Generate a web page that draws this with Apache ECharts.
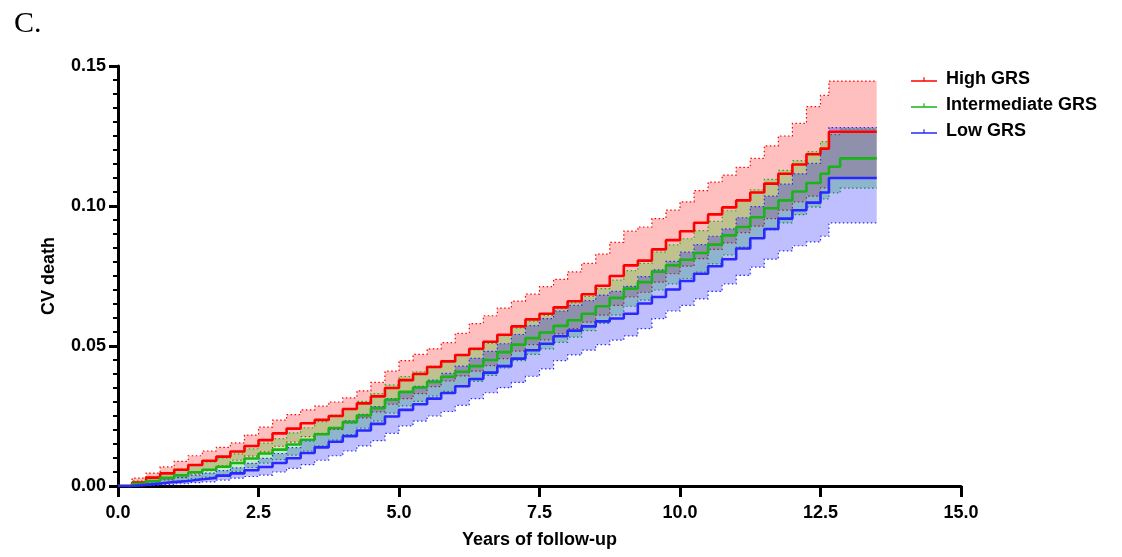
<!DOCTYPE html>
<html>
<head>
<meta charset="utf-8">
<script src="https://cdn.jsdelivr.net/npm/echarts@6/dist/echarts.min.js"></script>
<style>
html, body { margin: 0; padding: 0; background: #fff; }
#main { width: 1122px; height: 557px; }
</style>
</head>
<body>
<div id="main"></div>
<script>
// years of follow-up (shared time grid of the step curves)
const years = [0,0.25,0.5,0.75,1,1.25,1.5,1.75,2,2.25,2.5,2.75,3,3.25,3.5,3.75,4,4.25,4.5,4.75,5,5.25,5.5,5.75,6,6.25,6.5,6.75,7,7.25,7.5,7.75,8,8.25,8.5,8.75,9,9.25,9.5,9.75,10,10.25,10.5,10.75,11,11.25,11.5,11.75,12,12.25,12.5,12.65,12.85,13.5]

// High GRS
const highEst = [0,0.0012,0.003,0.0045,0.0058,0.0075,0.009,0.0105,0.0123,0.0143,0.0164,0.0188,0.0205,0.0224,0.0236,0.025,0.0275,0.0295,0.032,0.035,0.0378,0.04,0.0425,0.0445,0.0468,0.049,0.0515,0.054,0.057,0.0595,0.0615,0.0638,0.066,0.0685,0.0715,0.075,0.0788,0.0805,0.0845,0.0878,0.091,0.094,0.097,0.0995,0.102,0.1048,0.108,0.1115,0.1148,0.1185,0.1205,0.1265,0.1265,0.1265]
const highUpper = [0,0.0028,0.0046,0.0068,0.0088,0.0108,0.0125,0.0138,0.0154,0.0182,0.021,0.0235,0.0255,0.0272,0.0285,0.03,0.0315,0.034,0.037,0.041,0.0448,0.047,0.049,0.0512,0.0545,0.058,0.0608,0.0635,0.066,0.0685,0.0712,0.0738,0.0765,0.0795,0.0828,0.087,0.091,0.0925,0.0955,0.0985,0.1015,0.1055,0.1085,0.111,0.1138,0.117,0.1215,0.125,0.1295,0.1355,0.1395,0.1446,0.1446,0.1446]
const highLower = [0,0.0002,0.001,0.0022,0.003,0.0043,0.0055,0.0072,0.0092,0.0107,0.0122,0.0142,0.0157,0.0176,0.0188,0.0202,0.0225,0.0243,0.0265,0.0292,0.0312,0.033,0.0355,0.0375,0.0393,0.041,0.043,0.0455,0.0482,0.0505,0.0522,0.0543,0.0562,0.0585,0.061,0.0645,0.0675,0.0692,0.0728,0.0758,0.0785,0.0812,0.0845,0.0868,0.0905,0.0928,0.0955,0.0985,0.1015,0.1035,0.1065,0.11,0.11,0.11]

// Intermediate GRS
const interEst = [0,0.0008,0.0018,0.0029,0.0038,0.0049,0.0058,0.0069,0.0082,0.0098,0.0116,0.013,0.0148,0.0165,0.0185,0.0207,0.0228,0.0252,0.0278,0.0308,0.0336,0.0352,0.0372,0.039,0.0408,0.0428,0.045,0.0478,0.0505,0.0528,0.0548,0.0572,0.0592,0.0615,0.0642,0.0672,0.0705,0.0728,0.0765,0.0788,0.0808,0.0832,0.0862,0.0895,0.0925,0.096,0.0992,0.102,0.1052,0.1082,0.1115,0.114,0.117,0.117]
const interUpper = [0,0.0018,0.0033,0.0048,0.006,0.0074,0.0086,0.01,0.0115,0.0133,0.0153,0.0169,0.019,0.0208,0.023,0.0253,0.0276,0.0302,0.033,0.0361,0.0391,0.0408,0.0428,0.0447,0.0466,0.0486,0.0509,0.0537,0.0565,0.0589,0.0609,0.0633,0.0654,0.0677,0.0705,0.0735,0.0769,0.0795,0.0835,0.0861,0.0883,0.0912,0.0945,0.0983,0.1018,0.1058,0.1095,0.1127,0.1162,0.1194,0.123,0.1255,0.1275,0.1275]
const interLower = [0,0.0001,0.0006,0.0013,0.0018,0.0026,0.0032,0.0041,0.0052,0.0066,0.0082,0.0094,0.011,0.0125,0.0143,0.0164,0.0184,0.0207,0.0232,0.026,0.0286,0.0302,0.0321,0.0338,0.0355,0.0374,0.0395,0.0422,0.0448,0.047,0.049,0.0513,0.0532,0.0555,0.0581,0.061,0.0642,0.0664,0.07,0.0722,0.0741,0.0764,0.0793,0.0825,0.0853,0.0886,0.0915,0.094,0.0969,0.0996,0.1025,0.1047,0.1064,0.1064]

// Low GRS
const lowEst = [0,0.0004,0.0009,0.0014,0.0018,0.0024,0.0029,0.0037,0.0045,0.0056,0.0068,0.0082,0.0099,0.0118,0.0138,0.0158,0.0178,0.0198,0.0222,0.0248,0.0272,0.0292,0.0312,0.0332,0.0356,0.0382,0.0405,0.0428,0.0455,0.0485,0.0508,0.0535,0.0555,0.057,0.0588,0.0598,0.0615,0.0652,0.0675,0.0702,0.0732,0.0758,0.0785,0.081,0.0848,0.0885,0.0918,0.0955,0.0985,0.1012,0.1048,0.11,0.11,0.11]
const lowUpper = [0,0.001,0.0018,0.0026,0.0031,0.0039,0.0046,0.0055,0.0065,0.0081,0.0099,0.0116,0.0137,0.0161,0.0185,0.0209,0.0233,0.0256,0.0284,0.0312,0.0334,0.0356,0.0378,0.0402,0.0428,0.0456,0.0481,0.0508,0.0541,0.0573,0.0598,0.0625,0.0645,0.0662,0.0682,0.0695,0.0713,0.0748,0.0772,0.0802,0.0835,0.0862,0.0892,0.0918,0.0958,0.0998,0.1035,0.1078,0.1115,0.1152,0.1205,0.128,0.128,0.128]
const lowLower = [0,0,0.0002,0.0005,0.0008,0.0012,0.0015,0.0021,0.0028,0.0034,0.0039,0.005,0.0063,0.0076,0.0092,0.0108,0.0125,0.0143,0.0162,0.0188,0.0215,0.0232,0.025,0.0266,0.0288,0.0312,0.0333,0.0351,0.037,0.0392,0.0418,0.0448,0.0468,0.0485,0.0505,0.0521,0.0536,0.0562,0.0598,0.0625,0.0645,0.0668,0.0695,0.0722,0.0752,0.0782,0.081,0.084,0.0858,0.0872,0.0892,0.094,0.094,0.094]

const groupNames = ['High GRS', 'Intermediate GRS', 'Low GRS']

const font = "'Liberation Sans', Arial, sans-serif"

// step-shaped points (value holds until the next time), mapped through the axes
function stepCoords(api, vals) {
  const pts = []
  for (let i = 0; i < years.length; i++) {
    pts.push(api.coord([years[i], vals[i]]))
    if (i < years.length - 1) pts.push(api.coord([years[i + 1], vals[i]]))
  }
  return pts
}

// confidence band (custom polygon + dotted edges), then the estimate line on top
function group(name, color, fill, est, lower, upper) {
  return [
    {
      name: name + ' CI',
      type: 'custom',
      silent: true,
      clip: true,
      data: [[0, 0]],
      renderItem: (params, api) => {
        const up = stepCoords(api, upper)
        const lo = stepCoords(api, lower)
        return {
          type: 'group',
          children: [
            {
              type: 'polygon',
              shape: { points: up.concat(lo.slice().reverse()) },
              style: { fill: fill },
            },
            {
              type: 'polyline',
              shape: { points: up },
              style: { stroke: color, lineWidth: 1.2, lineDash: [1.5, 2.5], fill: null },
            },
            {
              type: 'polyline',
              shape: { points: lo },
              style: { stroke: color, lineWidth: 1.2, lineDash: [1.5, 2.5], fill: null },
            },
          ],
        }
      },
    },
    {
      name: name,
      type: 'line',
      step: 'end',
      symbol: 'none',
      data: years.map((t, i) => [t, est[i]]),
      itemStyle: { color: color },
      lineStyle: { width: 2.6, color: color },
    },
  ]
}

const option = {
  animation: false,
  backgroundColor: '#fff',
  title: {
    text: 'C.',
    left: 9,
    top: 4,
    textStyle: { fontFamily: "'Liberation Serif', 'Times New Roman', serif", fontSize: 30, fontWeight: 'normal', color: '#000' },
  },
  grid: { left: 118, right: 161, top: 66, bottom: 71 },
  legend: {
    data: groupNames,
    orient: 'vertical',
    left: 906,
    top: 65,
    itemWidth: 26,
    itemHeight: 5,
    itemGap: 7,
    icon: 'path://M0,3.2 L26,3.2 L26,4.7 L0,4.7 Z M12.4,0 L13.6,0 L13.6,3.2 L12.4,3.2 Z',
    textStyle: { fontFamily: font, fontSize: 18, fontWeight: 'bold', color: '#000', lineHeight: 19, padding: [0, 0, 0, 4] },
  },
  xAxis: {
    type: 'value',
    min: 0,
    max: 15,
    interval: 2.5,
    name: 'Years of follow-up',
    nameLocation: 'middle',
    nameGap: 45,
    nameTextStyle: { fontFamily: font, fontSize: 18, fontWeight: 'bold', color: '#000' },
    axisLine: { show: true, lineStyle: { color: '#000', width: 3 } },
    axisTick: { show: true, length: 11, lineStyle: { color: '#000', width: 3 } },
    axisLabel: { margin: 18, fontFamily: font, fontSize: 18, fontWeight: 'bold', color: '#000', formatter: (v) => v.toFixed(1) },
    splitLine: { show: false },
  },
  yAxis: {
    type: 'value',
    min: 0,
    max: 0.15,
    interval: 0.05,
    name: 'CV death',
    nameLocation: 'middle',
    nameGap: 60,
    nameTextStyle: { fontFamily: font, fontSize: 18, fontWeight: 'bold', color: '#000' },
    axisLine: { show: true, lineStyle: { color: '#000', width: 3 } },
    axisTick: { show: true, length: 9, lineStyle: { color: '#000', width: 3 } },
    minorTick: { show: true, splitNumber: 10, length: 5, lineStyle: { color: '#000', width: 2 } },
    axisLabel: { margin: 12, fontFamily: font, fontSize: 18, fontWeight: 'bold', color: '#000', formatter: (v) => v.toFixed(2) },
    splitLine: { show: false },
  },
  series: [].concat(
    group(groupNames[0], '#ff0000', 'rgba(255,0,0,0.25)', highEst, highLower, highUpper),
    group(groupNames[1], '#18b418', 'rgba(0,200,0,0.25)', interEst, interLower, interUpper),
    group(groupNames[2], '#2828ff', 'rgba(0,0,255,0.25)', lowEst, lowLower, lowUpper)
  ),
}

const chartDom = echarts.init(document.getElementById('main'))
chartDom.setOption(option)
window.addEventListener('resize', () => {
  chartDom.resize()
})
</script>
</body>
</html>
